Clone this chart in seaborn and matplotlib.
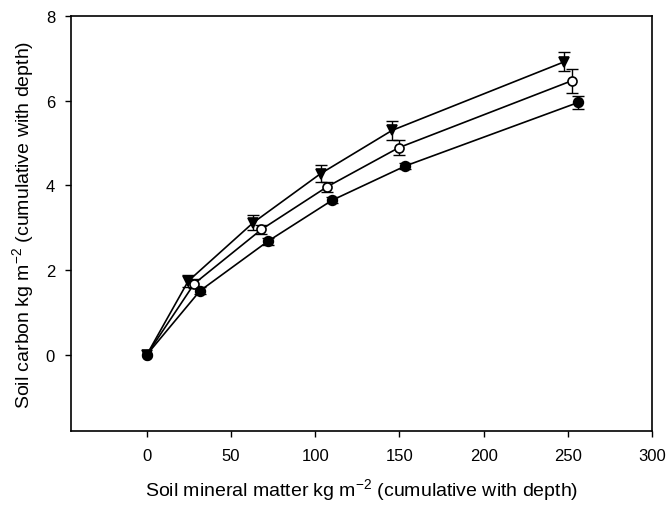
import matplotlib
matplotlib.use("Agg")
import matplotlib.pyplot as plt
import seaborn as sns
import pandas as pd

sns.set_style("ticks")
plt.rcParams["font.family"] = ["Liberation Sans", "DejaVu Sans"]
plt.rcParams["mathtext.default"] = "regular"
plt.rcParams["text.color"] = "black"
plt.rcParams["axes.labelcolor"] = "black"
plt.rcParams["xtick.color"] = "black"
plt.rcParams["ytick.color"] = "black"

# Cumulative soil mineral matter (x) and soil carbon (y) with standard errors
tri_x = [0, 24.6, 63.2, 103.3, 145.7, 248.0]
tri_y = [0, 1.74, 3.12, 4.28, 5.30, 6.92]
tri_err = [0, 0.14, 0.17, 0.21, 0.22, 0.23]

open_x = [0, 28.2, 68.1, 107.2, 149.6, 252.3]
open_y = [0, 1.68, 2.96, 3.97, 4.89, 6.47]
open_err = [0, 0.10, 0.10, 0.12, 0.18, 0.29]

fill_x = [0, 31.6, 71.9, 110.1, 153.6, 256.3]
fill_y = [0, 1.51, 2.68, 3.65, 4.46, 5.96]
fill_err = [0, 0.08, 0.08, 0.07, 0.08, 0.16]

x_ticks = [0, 50, 100, 150, 200, 250, 300]
y_ticks = [0, 2, 4, 6, 8]

fig = plt.figure(figsize=(6.66, 5.06), dpi=100)
ax = fig.add_axes([71 / 666, 1 - 432 / 506, (652 - 71) / 666, (432 - 17) / 506])

series = [
    (tri_x, tri_y, tri_err, "v", "black", 7.5),
    (open_x, open_y, open_err, "o", "white", 6.5),
    (fill_x, fill_y, fill_err, "o", "black", 7),
]

for xs, ys, errs, mk, face, ms in series:
    df = pd.DataFrame({"x": xs, "y": ys, "err": errs})
    with_err = df[df["err"] > 0]
    ax.errorbar(with_err["x"], with_err["y"], yerr=with_err["err"], fmt="none",
                ecolor="black", elinewidth=1.0, capsize=4.5, capthick=1.0,
                zorder=2)
    sns.lineplot(data=df, x="x", y="y", ax=ax, color="black", linewidth=1.2,
                 marker=mk, markersize=ms, markerfacecolor=face,
                 markeredgecolor="black", markeredgewidth=1.2,
                 sort=False, estimator=None, zorder=3)

ax.set_xlim(-45, 300)
ax.set_ylim(-1.8, 8)
ax.set_xticks(x_ticks)
ax.set_yticks(y_ticks)
ax.tick_params(axis="both", direction="out", length=4.5, width=1, labelsize=12,
               colors="black", labelcolor="black")
ax.tick_params(axis="x", pad=8)
ax.tick_params(axis="y", pad=7)
for sp in ax.spines.values():
    sp.set_visible(True)
    sp.set_linewidth(1.2)
    sp.set_color("black")

ax.set_xlabel("Soil mineral matter kg m$^{-2}$ (cumulative with depth)",
              fontsize=14, labelpad=9, color="black")
ax.set_ylabel("Soil carbon kg m$^{-2}$ (cumulative with depth)",
              fontsize=14, labelpad=7, color="black")

fig.savefig("out.png", dpi=100)
